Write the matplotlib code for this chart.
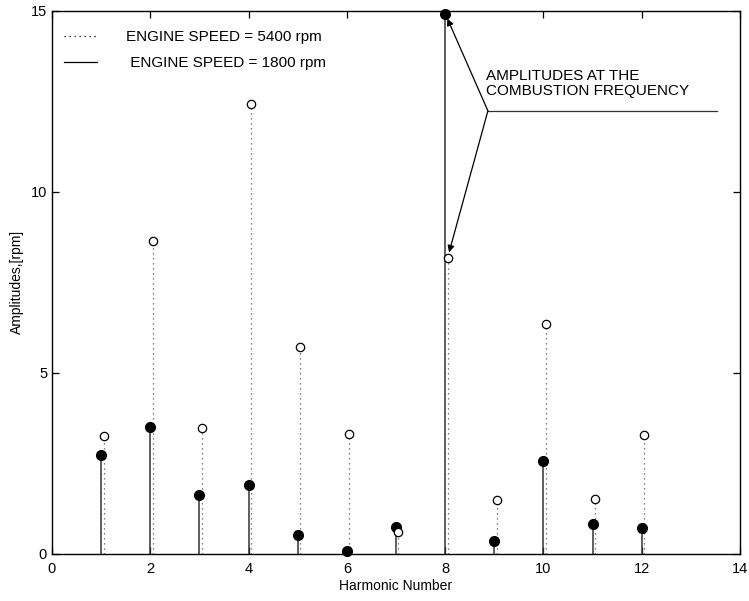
import matplotlib
matplotlib.use("Agg")
import matplotlib.pyplot as plt
from matplotlib.lines import Line2D

plt.rcParams["font.family"] = ["Liberation Sans", "DejaVu Sans"]

harmonics = [1, 2, 3, 4, 5, 6, 7, 8, 9, 10, 11, 12]
amp_1800 = [2.72, 3.50, 1.61, 1.89, 0.53, 0.08, 0.73, 14.93, 0.34, 2.55, 0.81, 0.72]
amp_5400 = [3.24, 8.65, 3.48, 12.44, 5.71, 3.32, 0.59, 8.18, 1.49, 6.35, 1.52, 3.27]
legend_labels = ["ENGINE SPEED = 5400 rpm", " ENGINE SPEED = 1800 rpm"]
note = "AMPLITUDES AT THE\nCOMBUSTION FREQUENCY"
OFF = 0.05  # 5400 rpm stems are drawn slightly right of the integer

fig = plt.figure(figsize=(7.49, 6.01), dpi=100)
ax = fig.add_axes([0.0694, 0.0787, 0.9186, 0.903])

# 5400 rpm: dotted stems, open circles
for h, a in zip(harmonics, amp_5400):
    ax.plot([h + OFF, h + OFF], [0, a], ls=(0, (1, 3)), color="#555", lw=0.9, zorder=2)
ax.plot([h + OFF for h in harmonics], amp_5400, "o", ms=6, mfc="white", mec="black", mew=0.9,
        ls="none", zorder=4)

# 1800 rpm: solid stems, filled circles
for h, a in zip(harmonics, amp_1800):
    ax.plot([h, h], [0, a], "-", color="#333", lw=1.1, zorder=2)
ax.plot(harmonics, amp_1800, "o", ms=7, color="black", ls="none", zorder=3, clip_on=False)

ax.set_xlim(0, 14); ax.set_ylim(0, 15)
ax.set_xticks(range(0, 15, 2)); ax.set_yticks([0, 5, 10, 15])
ax.tick_params(direction="in", top=True, right=True, length=5, width=0.9, labelsize=10.5,
               colors="black")
ax.tick_params(axis="x", pad=6)
for s in ax.spines.values():
    s.set_linewidth(1.0)
ax.set_xlabel("Harmonic Number", fontsize=10, labelpad=2)
ax.set_ylabel("Amplitudes,[rpm]", fontsize=10, labelpad=5)

handles = [Line2D([], [], ls=(0, (1, 3)), color="black", lw=0.9),
           Line2D([], [], ls="-", color="black", lw=0.9)]
ax.legend(handles, legend_labels, loc="upper left", frameon=False, fontsize=11,
          handlelength=2.2, handletextpad=1.9, bbox_to_anchor=(-0.003, 0.99), labelspacing=0.8)

# annotation with two arrows and a leader line
i8 = harmonics.index(8)
kx, ky = 8.87, 12.24
ax.plot([kx, 13.53], [ky, ky], color="#333", lw=0.9)
ax.annotate("", xy=(8, amp_1800[i8]), xytext=(kx, ky),
            arrowprops=dict(arrowstyle="-|>", color="black", lw=0.9, mutation_scale=10,
                            shrinkA=0, shrinkB=4))
ax.annotate("", xy=(8 + OFF, amp_5400[i8]), xytext=(kx, ky),
            arrowprops=dict(arrowstyle="-|>", color="black", lw=0.9, mutation_scale=10,
                            shrinkA=0, shrinkB=4))
ax.text(8.83, 12.6, note, fontsize=11, ha="left", va="bottom", linespacing=1.05)

fig.savefig("out.png", dpi=100)
